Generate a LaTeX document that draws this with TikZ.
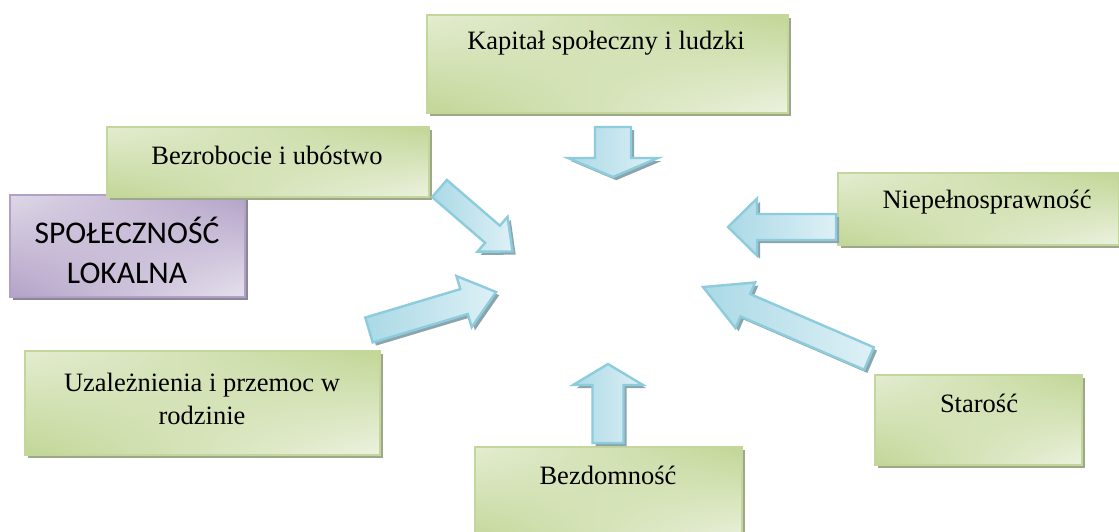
\documentclass[tikz,border=0pt]{standalone}
\usepackage{fontspec}
\setmainfont{Liberation Serif}
\newfontfamily\calfont{Carlito}
\usetikzlibrary{fit,shadows,shadings}
\definecolor{gborder}{RGB}{195,214,155}
\definecolor{gdark}{RGB}{194,214,150}
\definecolor{glight}{RGB}{236,242,224}
\definecolor{gshadow}{RGB}{158,167,138}
\definecolor{pborder}{RGB}{178,161,199}
\definecolor{pdark}{RGB}{179,162,199}
\definecolor{plight}{RGB}{230,225,237}
\definecolor{pshadow}{RGB}{140,135,150}
\definecolor{aborder}{RGB}{140,204,220}
\definecolor{alight}{RGB}{222,240,246}
\definecolor{adark}{RGB}{170,217,230}
\definecolor{ashadow}{RGB}{140,165,172}
\tikzset{
  gbox/.style={draw=gborder, line width=1pt, inner sep=0pt, shade,
    upper left=glight!80!gdark, upper right=gdark, lower left=gdark, lower right=glight,
    drop shadow={shadow xshift=1.6pt, shadow yshift=-1.6pt, fill=gshadow, opacity=1}},
  pbox/.style={draw=pborder, line width=1pt, inner sep=0pt, shade,
    upper left=plight!85!pdark, upper right=pdark, lower left=pdark, lower right=plight,
    drop shadow={shadow xshift=1.6pt, shadow yshift=-1.6pt, fill=pshadow, opacity=1}},
  txt/.style={inner sep=0pt, align=center, font=\fontsize{13.25}{16.5}\selectfont},
  caltxt/.style={inner sep=0pt, align=center, font=\calfont\fontsize{15.8}{20}\selectfont},
  arrbody/.style={draw=aborder, line width=1.2pt, line join=miter, left color=adark, right color=alight},
  arrshade/.style={fill=ashadow},
}
% #1 tail (px)  #2 angle  #3 length  #4 shaft half-width  #5 head half-width  #6 head length
\newcommand\blockarrow[6]{%
  \begin{scope}[shift={(#1)}, xshift=1.6pt, yshift=-1.6pt, rotate=#2]
    \fill[arrshade] (0,-#4) -- ({#3-#6},-#4) -- ({#3-#6},-#5) -- (#3,0) -- ({#3-#6},#5) -- ({#3-#6},#4) -- (0,#4) -- cycle;
  \end{scope}
  \begin{scope}[shift={(#1)}, rotate=#2]
    \path[arrbody] (0,-#4) -- ({#3-#6},-#4) -- ({#3-#6},-#5) -- (#3,0) -- ({#3-#6},#5) -- ({#3-#6},#4) -- (0,#4) -- cycle;
  \end{scope}}
\begin{document}
\begin{tikzpicture}[x=0.5pt,y=-0.5pt]
\useasboundingbox (0,0) rectangle (1119,531);
\clip (0,0) rectangle (1119,531);
\fill[white] (0,0) rectangle (1119,531);

% boxes
\node[gbox, fit={(427,15) (788,113)}] (kap) {};
\node[txt] (kapT) at (606,43) {Kapitał społeczny i ludzki};

\node[pbox, fit={(10,195) (245,297)}] (spo) {};
\node[caltxt] (spoT) at (127,250) {SPOŁECZNOŚĆ\\LOKALNA};

\node[gbox, fit={(107,127) (429,197)}] (bez) {};
\node[txt] (bezT) at (267,155) {Bezrobocie i ubóstwo};

\node[gbox, fit={(838,173) (1119,245)}] (nie) {};
\node[txt] (nieT) at (987,202) {Niepełnosprawność};

\node[gbox, fit={(25,351) (380,455)}] (uza) {};
\node[txt] (uzaT) at (202,398.5) {Uzależnienia i przemoc w\\rodzinie};

\node[gbox, fit={(875,375) (1082,465)}] (sta) {};
\node[txt] (staT) at (979,403) {Starość};

\node[gbox, fit={(475,447) (742,545)}] (bzd) {};
\node[txt] (bzdT) at (608,475) {Bezdomność};

% arrows
\blockarrow{613,127}{-90}{50}{18}{45}{19}
\blockarrow{439.5,188.5}{-40.8}{96.4}{11.3}{23}{26.4}
\blockarrow{369,330}{16.66}{132.6}{13}{26.7}{33.4}
\blockarrow{836,227}{180}{108}{13}{28.5}{29}
\blockarrow{869,358.5}{156.7}{180.7}{12.2}{24.8}{46}
\blockarrow{608,443}{90}{79}{15.5}{35}{21}
\end{tikzpicture}
\end{document}
